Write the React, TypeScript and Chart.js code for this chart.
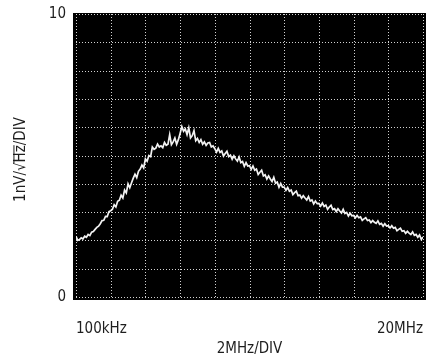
import { useEffect, useRef } from 'react';
import { Chart, registerables } from 'chart.js';

Chart.register(...registerables);

// horizontal position in divisions (100kHz at 0, 20MHz at 10; 2MHz/DIV)
const xDiv = [
  0.00, 0.05, 0.10, 0.15, 0.20, 0.25, 0.30, 0.35, 0.40, 0.45,
  0.50, 0.55, 0.60, 0.65, 0.70, 0.75, 0.80, 0.85, 0.90, 0.95,
  1.00, 1.05, 1.10, 1.15, 1.20, 1.25, 1.30, 1.35, 1.40, 1.45,
  1.50, 1.55, 1.60, 1.65, 1.70, 1.75, 1.80, 1.85, 1.90, 1.95,
  2.00, 2.05, 2.10, 2.15, 2.20, 2.25, 2.30, 2.35, 2.40, 2.45,
  2.50, 2.55, 2.60, 2.65, 2.70, 2.75, 2.80, 2.85, 2.90, 2.95,
  3.00, 3.05, 3.10, 3.15, 3.20, 3.25, 3.30, 3.35, 3.40, 3.45,
  3.50, 3.55, 3.60, 3.65, 3.70, 3.75, 3.80, 3.85, 3.90, 3.95,
  4.00, 4.05, 4.10, 4.15, 4.20, 4.25, 4.30, 4.35, 4.40, 4.45,
  4.50, 4.55, 4.60, 4.65, 4.70, 4.75, 4.80, 4.85, 4.90, 4.95,
  5.00, 5.05, 5.10, 5.15, 5.20, 5.25, 5.30, 5.35, 5.40, 5.45,
  5.50, 5.55, 5.60, 5.65, 5.70, 5.75, 5.80, 5.85, 5.90, 5.95,
  6.00, 6.05, 6.10, 6.15, 6.20, 6.25, 6.30, 6.35, 6.40, 6.45,
  6.50, 6.55, 6.60, 6.65, 6.70, 6.75, 6.80, 6.85, 6.90, 6.95,
  7.00, 7.05, 7.10, 7.15, 7.20, 7.25, 7.30, 7.35, 7.40, 7.45,
  7.50, 7.55, 7.60, 7.65, 7.70, 7.75, 7.80, 7.85, 7.90, 7.95,
  8.00, 8.05, 8.10, 8.15, 8.20, 8.25, 8.30, 8.35, 8.40, 8.45,
  8.50, 8.55, 8.60, 8.65, 8.70, 8.75, 8.80, 8.85, 8.90, 8.95,
  9.00, 9.05, 9.10, 9.15, 9.20, 9.25, 9.30, 9.35, 9.40, 9.45,
  9.50, 9.55, 9.60, 9.65, 9.70, 9.75, 9.80, 9.85, 9.90, 9.95,
  10.00,
];

// noise density, nV/√Hz (1 nV/√Hz per division)
const noiseDensity = [
  2.14, 2.00, 2.03, 2.09, 2.05, 2.15, 2.11, 2.21, 2.17, 2.29,
  2.31, 2.39, 2.46, 2.50, 2.59, 2.70, 2.71, 2.85, 2.84, 3.02,
  3.05, 3.10, 3.26, 3.18, 3.38, 3.42, 3.60, 3.50, 3.78, 3.68,
  4.00, 3.86, 4.04, 4.20, 4.34, 4.22, 4.44, 4.52, 4.66, 4.56,
  4.88, 4.80, 5.00, 4.96, 5.30, 5.22, 5.26, 5.40, 5.30, 5.34,
  5.28, 5.46, 5.36, 5.40, 5.74, 5.38, 5.48, 5.62, 5.40, 5.56,
  5.78, 6.02, 5.86, 5.94, 5.74, 5.98, 5.62, 5.70, 5.88, 5.52,
  5.60, 5.46, 5.56, 5.40, 5.48, 5.36, 5.44, 5.46, 5.30, 5.34,
  5.24, 5.12, 5.25, 5.11, 5.16, 4.98, 5.07, 5.15, 4.96, 5.01,
  4.87, 4.99, 4.88, 4.80, 4.95, 4.75, 4.79, 4.62, 4.75, 4.63,
  4.64, 4.51, 4.63, 4.48, 4.52, 4.33, 4.41, 4.48, 4.28, 4.32,
  4.17, 4.28, 4.17, 4.08, 4.23, 4.02, 4.06, 3.88, 4.01, 3.88,
  3.88, 3.77, 3.87, 3.74, 3.78, 3.62, 3.69, 3.74, 3.58, 3.60,
  3.49, 3.58, 3.50, 3.43, 3.55, 3.39, 3.43, 3.29, 3.39, 3.30,
  3.31, 3.21, 3.32, 3.20, 3.25, 3.10, 3.18, 3.24, 3.09, 3.12,
  3.02, 3.12, 3.04, 2.97, 3.10, 2.95, 2.99, 2.86, 2.96, 2.87,
  2.88, 2.80, 2.88, 2.80, 2.83, 2.71, 2.76, 2.80, 2.70, 2.72,
  2.63, 2.70, 2.64, 2.60, 2.69, 2.57, 2.60, 2.50, 2.59, 2.51,
  2.52, 2.44, 2.52, 2.43, 2.46, 2.34, 2.39, 2.43, 2.32, 2.34,
  2.25, 2.32, 2.26, 2.21, 2.30, 2.18, 2.21, 2.11, 2.19, 2.04,
  2.12,
];

const xTickValues = [0, 10];
const xTickLabels = ['100kHz', '20MHz'];
const yTickValues = [0, 10];
const yTickLabels = ['0', '10'];
const xTitle = '2MHz/DIV';
const yTitleParts = ['1nV/√', 'Hz', '/DIV'];

const FONT = "'DejaVu Sans Condensed', 'Liberation Sans Narrow', 'Liberation Sans', Arial, sans-serif";
const TEXT = '#1e1e1e';
const GRID = 'rgba(220,220,220,0.95)';

const screen = {
  id: 'screen',
  beforeDraw(chart: any) {
    const a = chart.chartArea;
    const ctx = chart.ctx;
    ctx.save();
    ctx.fillStyle = '#000';
    ctx.fillRect(a.left - 3, a.top - 1, a.right - a.left + 6, a.bottom - a.top + 4);
    ctx.restore();
  },
  beforeDatasetsDraw(chart: any) {
    const a = chart.chartArea;
    const ctx = chart.ctx;
    const xs = chart.scales.x;
    const ys = chart.scales.y;
    ctx.save();
    ctx.strokeStyle = GRID;
    ctx.lineWidth = 1;
    ctx.setLineDash([1, 2]);
    xs.ticks.forEach((t: any) => {
      const px = Math.round(xs.getPixelForValue(t.value)) + 0.5;
      ctx.beginPath();
      ctx.moveTo(px, a.top);
      ctx.lineTo(px, a.bottom);
      ctx.stroke();
    });
    ys.ticks.forEach((t: any) => {
      const py = Math.round(ys.getPixelForValue(t.value)) + 0.5;
      ctx.beginPath();
      ctx.moveTo(a.left, py);
      ctx.lineTo(a.right, py);
      ctx.stroke();
    });
    ctx.restore();
  },
  afterDraw(chart: any) {
    const a = chart.chartArea;
    const ctx = chart.ctx;
    const size = 15;
    ctx.save();
    ctx.font = `${size}px ${FONT}`;
    ctx.fillStyle = TEXT;
    ctx.strokeStyle = TEXT;
    ctx.textBaseline = 'middle';
    ctx.textAlign = 'left';
    const widths = yTitleParts.map((p) => ctx.measureText(p).width);
    const total = widths.reduce((s, w) => s + w, 0);
    ctx.translate(21, (a.top + a.bottom) / 2 + 4);
    ctx.rotate(-Math.PI / 2);
    let x = -total / 2;
    yTitleParts.forEach((p, i) => {
      ctx.fillText(p, x, 0);
      if (i === 1) {
        ctx.lineWidth = 1;
        ctx.beginPath();
        ctx.moveTo(x - 1, -size * 0.47);
        ctx.lineTo(x + widths[i], -size * 0.47);
        ctx.stroke();
      }
      x += widths[i];
    });
    ctx.restore();
  },
};

export default function App() {
  const ref = useRef<HTMLCanvasElement>(null);
  useEffect(() => {
    const pts = xDiv.map((x, i) => ({ x, y: noiseDensity[i] }));
    const chart = new Chart(ref.current!, {
      type: 'line',
      data: {
        datasets: [
          {
            data: pts,
            borderColor: '#f2f2f2',
            borderWidth: 1.7,
            pointRadius: 0,
            tension: 0,
            fill: false,
          },
        ],
      },
      options: {
        animation: false,
        responsive: false,
        maintainAspectRatio: false,
        layout: { padding: { top: 14, right: 9, left: 0, bottom: 0 } },
        plugins: { legend: { display: false }, tooltip: { enabled: false } },
        scales: {
          x: {
            type: 'linear',
            min: 0,
            max: 10,
            afterFit: (s: any) => {
              s.height = 63;
              s.paddingLeft = 0;
              s.paddingRight = 0;
            },
            border: { display: false },
            grid: { display: false, drawTicks: false },
            ticks: {
              stepSize: 1,
              autoSkip: false,
              maxRotation: 0,
              align: 'inner',
              padding: 23,
              color: TEXT,
              font: { family: FONT, size: 15 },
              callback: (v: any) => {
                const i = xTickValues.indexOf(Number(v));
                return i >= 0 ? xTickLabels[i] : '';
              },
            },
            title: {
              display: true,
              text: xTitle,
              color: TEXT,
              font: { family: FONT, size: 15 },
              padding: { top: 0, bottom: 2 },
            },
          },
          y: {
            min: 0,
            max: 10,
            afterFit: (s: any) => {
              s.width = 76;
              s.paddingTop = 0;
              s.paddingBottom = 0;
            },
            border: { display: false },
            grid: { display: false, drawTicks: false },
            ticks: {
              stepSize: 1,
              autoSkip: false,
              padding: 10,
              color: TEXT,
              font: { family: FONT, size: 15 },
              callback: (v: any) => {
                const i = yTickValues.indexOf(Number(v));
                return i >= 0 ? yTickLabels[i] : '';
              },
            },
          },
        },
      },
      plugins: [screen],
    } as any);
    return () => chart.destroy();
  }, []);
  return (
    <div style={{ position: 'fixed', left: 0, top: 0, width: 432, height: 360, background: '#fff' }}>
      <canvas ref={ref} width={432} height={360} style={{ display: 'block' }} />
    </div>
  );
}
